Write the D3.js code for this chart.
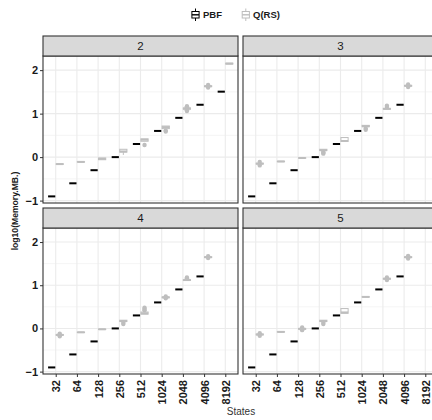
<!DOCTYPE html>
<html><head><meta charset="utf-8">
<script src="https://cdn.jsdelivr.net/npm/d3@7"></script>
<style>body{margin:0;overflow:hidden;background:#fff}svg{display:block;font-family:"Liberation Sans",Arial,sans-serif}</style>
</head><body><svg id="c" width="432" height="420"></svg>
<script>
// ---- data ----
const states = ["32","64","128","256","512","1024","2048","4096","8192"];
const facets = ["2","3","4","5"];
const seriesNames = ["PBF","Q(RS)"];
// PBF: log10 memory (one value per state)
const pbf2 = [-0.903,-0.602,-0.301,0.0,0.301,0.602,0.903,1.204,1.505];
const pbf3 = [-0.903,-0.602,-0.301,0.0,0.301,0.602,0.903,1.204];
const pbf4 = [-0.903,-0.602,-0.301,0.0,0.301,0.602,0.903,1.204];
const pbf5 = [-0.903,-0.602,-0.301,0.0,0.301,0.602,0.903,1.204];
// Q(RS) boxplot stats: [lower whisker, q1, median, q3, upper whisker]
const qrs2 = [[-0.17,-0.165,-0.16,-0.155,-0.15],[-0.12,-0.115,-0.11,-0.105,-0.10],[-0.06,-0.06,-0.04,-0.02,-0.02],[0.05,0.115,0.13,0.18,0.18],[0.365,0.365,0.40,0.42,0.42],[0.655,0.655,0.69,0.715,0.715],[1.10,1.10,1.12,1.13,1.13],[1.62,1.62,1.63,1.64,1.64],[2.14,2.14,2.15,2.16,2.16]];
const qrs3 = [[-0.16,-0.16,-0.15,-0.14,-0.14],[-0.11,-0.105,-0.10,-0.095,-0.09],[-0.03,-0.025,-0.02,-0.015,-0.01],[0.15,0.15,0.16,0.18,0.18],[0.36,0.36,0.37,0.45,0.45],[0.70,0.70,0.71,0.73,0.73],[1.10,1.10,1.11,1.12,1.12],[1.63,1.63,1.64,1.65,1.65]];
const qrs4 = [[-0.16,-0.16,-0.15,-0.14,-0.14],[-0.10,-0.095,-0.09,-0.085,-0.08],[-0.03,-0.025,-0.02,-0.015,-0.01],[0.16,0.16,0.17,0.19,0.19],[0.33,0.33,0.35,0.38,0.38],[0.71,0.71,0.72,0.73,0.73],[1.11,1.11,1.12,1.13,1.13],[1.64,1.64,1.65,1.66,1.66]];
const qrs5 = [[-0.15,-0.15,-0.14,-0.13,-0.13],[-0.09,-0.085,-0.08,-0.075,-0.07],[-0.02,-0.02,-0.01,0.0,0.0],[0.16,0.16,0.17,0.19,0.19],[0.35,0.35,0.37,0.46,0.46],[0.725,0.725,0.73,0.735,0.735],[1.14,1.14,1.15,1.16,1.16],[1.64,1.64,1.65,1.66,1.66]];
// Q(RS) outliers per state
const out2 = [[],[],[],[],[0.28],[0.59,0.61],[1.06,1.08,1.15,1.17],[1.60,1.66],[]];
const out3 = [[-0.19,-0.11],[],[],[0.12,0.10,0.08],[],[0.66,0.63],[1.15,1.18],[1.61,1.67]];
const out4 = [[-0.18,-0.12],[],[],[0.13,0.10],[0.42,0.45,0.48],[0.70,0.74],[1.16,1.18],[1.63,1.67]];
const out5 = [[-0.17,-0.11],[],[-0.04,0.02],[0.13,0.10],[],[],[1.12,1.18],[1.62,1.68]];
const yTicks = [-1,0,1,2];
const yMinor = [-0.5,0.5,1.5];

const pbfData = {"2":pbf2,"3":pbf3,"4":pbf4,"5":pbf5};
const qrsData = {"2":qrs2,"3":qrs3,"4":qrs4,"5":qrs5};
const outData = {"2":out2,"3":out3,"4":out4,"5":out5};

// ---- layout ----
const svg = d3.select("#c");
const colPBF = "#000000", colQ = "#bebebe";
const panelW = 195;
const lefts = [43, 243];
const stripTops = [36, 208];
const stripH = 20;
const plotBottoms = [203, 374];
const yDomain = [-1.055, 2.325];

const layout = [
  {f:"2", col:0, row:0}, {f:"3", col:1, row:0},
  {f:"4", col:0, row:1}, {f:"5", col:1, row:1}
];

layout.forEach(p => {
  const x0 = lefts[p.col], top = stripTops[p.row], pTop = top + stripH, pBot = plotBottoms[p.row];
  const x = d3.scalePoint().domain(states).range([x0, x0 + panelW]).padding(0.6);
  const y = d3.scaleLinear().domain(yDomain).range([pBot, pTop]);
  const step = x.step();
  const g = svg.append("g");
  // background grid
  g.selectAll(".mn").data(yMinor).join("line")
    .attr("x1", x0).attr("x2", x0 + panelW).attr("y1", d => y(d)).attr("y2", d => y(d))
    .attr("stroke", "#efefef").attr("stroke-width", 0.6);
  g.selectAll(".mj").data(yTicks).join("line")
    .attr("x1", x0).attr("x2", x0 + panelW).attr("y1", d => y(d)).attr("y2", d => y(d))
    .attr("stroke", "#ebebeb").attr("stroke-width", 1.1);
  g.selectAll(".vx").data(states).join("line")
    .attr("x1", d => x(d)).attr("x2", d => x(d)).attr("y1", pTop).attr("y2", pBot)
    .attr("stroke", "#ebebeb").attr("stroke-width", 1.1);

  const bw = step * 0.34, off = step * 0.19;
  // Q(RS) boxes
  const q = qrsData[p.f];
  q.forEach((s, i) => {
    const cx = x(states[i]) + off;
    const gg = g.append("g");
    gg.append("line").attr("x1", cx).attr("x2", cx).attr("y1", y(s[0])).attr("y2", y(s[1])).attr("stroke", colQ);
    gg.append("line").attr("x1", cx).attr("x2", cx).attr("y1", y(s[3])).attr("y2", y(s[4])).attr("stroke", colQ);
    gg.append("rect").attr("x", cx - bw/2).attr("width", bw)
      .attr("y", y(s[3])).attr("height", Math.max(0, y(s[1]) - y(s[3])))
      .attr("fill", "#fff").attr("stroke", colQ).attr("stroke-width", 1);
    gg.append("line").attr("x1", cx - bw/2).attr("x2", cx + bw/2).attr("y1", y(s[2])).attr("y2", y(s[2]))
      .attr("stroke", colQ).attr("stroke-width", 2);
    gg.selectAll("circle").data(outData[p.f][i]).join("circle")
      .attr("cx", cx).attr("cy", d => y(d)).attr("r", 2.2).attr("fill", colQ);
  });
  // PBF boxes (zero-height)
  pbfData[p.f].forEach((v, i) => {
    const cx = x(states[i]) - off;
    g.append("line").attr("x1", cx - bw/2).attr("x2", cx + bw/2).attr("y1", y(v)).attr("y2", y(v))
      .attr("stroke", colPBF).attr("stroke-width", 2);
  });

  // panel border
  g.append("rect").attr("x", x0).attr("y", pTop).attr("width", panelW).attr("height", pBot - pTop)
    .attr("fill", "none").attr("stroke", "#333").attr("stroke-width", 1.1);
  // strip
  g.append("rect").attr("x", x0).attr("y", top).attr("width", panelW).attr("height", stripH)
    .attr("fill", "#d9d9d9").attr("stroke", "#333").attr("stroke-width", 1.1);
  g.append("text").attr("x", x0 + panelW/2).attr("y", top + stripH/2).attr("dy", "0.36em")
    .attr("text-anchor", "middle").attr("font-size", 11.5).attr("fill", "#1a1a1a").text(p.f);

  // axes
  if (p.col === 0) {
    const ax = g.append("g").attr("transform", `translate(${x0},0)`)
      .call(d3.axisLeft(y).tickValues(yTicks).tickSize(3).tickPadding(2).tickFormat(d3.format("d")));
    ax.select(".domain").remove();
    ax.selectAll("line").attr("stroke", "#333");
    ax.selectAll("text").attr("font-size", 11).attr("font-weight", "bold").attr("fill", "#1a1a1a")
      .attr("font-family", "Liberation Sans, Arial, sans-serif");
  }
  if (p.row === 1) {
    const ax = g.append("g").attr("transform", `translate(0,${pBot})`)
      .call(d3.axisBottom(x).tickSize(3).tickPadding(2));
    ax.select(".domain").remove();
    ax.selectAll("line").attr("stroke", "#333");
    ax.selectAll("text").attr("font-size", 11).attr("font-weight", "bold").attr("fill", "#1a1a1a")
      .attr("font-family", "Liberation Sans, Arial, sans-serif")
      .attr("transform", "rotate(-90)").attr("text-anchor", "end")
      .attr("x", -6).attr("y", 0).attr("dy", "0.36em");
  }
});

// axis titles
svg.append("text").attr("x", 241).attr("y", 415).attr("text-anchor", "middle")
  .attr("font-size", 10).attr("fill", "#333").text("States");
svg.append("text").attr("transform", "translate(15,211) rotate(-90)").attr("dy", "0.35em")
  .attr("text-anchor", "middle").attr("font-size", 8.6).attr("font-weight", "bold").attr("fill", "#1a1a1a")
  .text("log10(Memory.MB.)");

// legend
const legend = svg.append("g");
const legItems = [{name: seriesNames[0], col: colPBF, ix: 195.5, tx: 203},
                  {name: seriesNames[1], col: colQ, ix: 245.8, tx: 253}];
legItems.forEach(it => {
  const gl = legend.append("g");
  gl.append("line").attr("x1", it.ix).attr("x2", it.ix).attr("y1", 8.5).attr("y2", 11.5).attr("stroke", it.col);
  gl.append("line").attr("x1", it.ix).attr("x2", it.ix).attr("y1", 18).attr("y2", 21).attr("stroke", it.col);
  gl.append("rect").attr("x", it.ix - 3.6).attr("y", 11.5).attr("width", 7.2).attr("height", 6.5)
    .attr("fill", "#fff").attr("stroke", it.col).attr("stroke-width", 1);
  gl.append("line").attr("x1", it.ix - 3.6).attr("x2", it.ix + 3.6).attr("y1", 14.8).attr("y2", 14.8)
    .attr("stroke", it.col).attr("stroke-width", 1.4);
  gl.append("text").attr("x", it.tx).attr("y", 15).attr("dy", "0.35em").attr("font-size", 9.5)
    .attr("font-weight", "bold").attr("fill", "#1a1a1a").text(it.name);
});
</script></body></html>
